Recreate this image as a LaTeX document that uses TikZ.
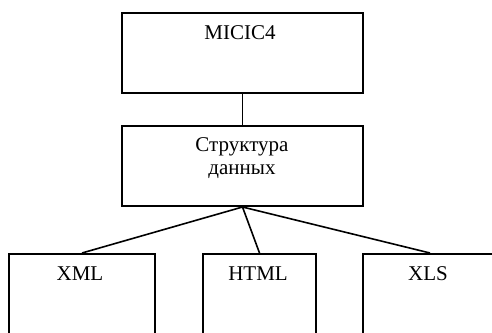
\documentclass[tikz,border=0pt]{standalone}
\usepackage{fontspec}
\setmainfont{Liberation Serif}
\begin{document}
\begin{tikzpicture}[x=0.5pt,y=-0.5pt,
  box/.style={draw=black,line width=1pt,rectangle,inner sep=0pt},
  lbl/.style={font=\fontsize{10.5}{11.5}\selectfont,inner sep=0pt,align=center},
  link/.style={draw=black,line width=0.8pt}]
\useasboundingbox (0,0) rectangle (492,332);
\clip (0,0) rectangle (492,332);
\node[box,minimum width=120.5pt,minimum height=40pt] (top) at (242.5,53) {};
\node[box,minimum width=120.5pt,minimum height=40pt] (mid) at (242.5,166) {};
\node[box,minimum width=73pt,minimum height=60pt] (xml) at (82,314) {};
\node[box,minimum width=56.5pt,minimum height=60pt] (html) at (259.5,314) {};
\node[box,minimum width=67pt,minimum height=60pt] (xls) at (430,314) {};
\node[lbl] (t1) at (240,33) {MICIC4};
\node[lbl] (t2) at (242,158) {Структура\\данных};
\node[lbl] (t3) at (80,274) {XML};
\node[lbl] (t4) at (258,274) {HTML};
\node[lbl] (t5) at (428,274) {XLS};
\draw[link] (top.south) -- (mid.north);
\draw[link] (mid.south) -- (xml.north);
\draw[link] (mid.south) -- (html.north);
\draw[link] (mid.south) -- (xls.north);
\end{tikzpicture}
\end{document}
